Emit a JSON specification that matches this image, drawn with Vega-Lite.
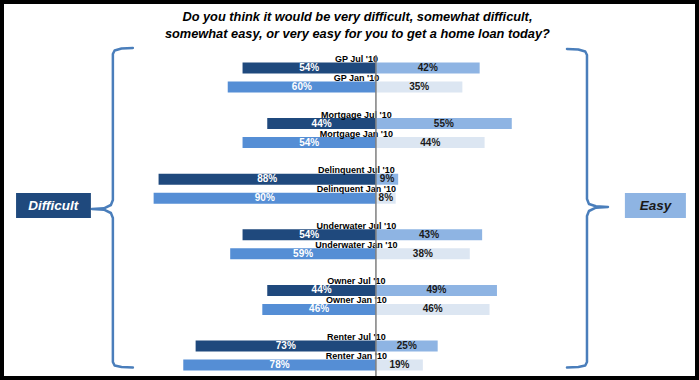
{
  "$schema": "https://vega.github.io/schema/vega-lite/v6.json",
  "width": 699,
  "height": 380,
  "autosize": {"type": "none"},
  "padding": 0,
  "background": "white",
  "config": {
    "view": {"stroke": "black", "strokeWidth": 8, "fill": "white"},
    "font": "Liberation Sans"
  },
  "datasets": {
    "answers": [
      {"group": "GP", "period": "Jul '10", "side": "Difficult", "value": -54},
      {"group": "GP", "period": "Jul '10", "side": "Easy", "value": 42},
      {"group": "GP", "period": "Jan '10", "side": "Difficult", "value": -60},
      {"group": "GP", "period": "Jan '10", "side": "Easy", "value": 35},
      {"group": "Mortgage", "period": "Jul '10", "side": "Difficult", "value": -44},
      {"group": "Mortgage", "period": "Jul '10", "side": "Easy", "value": 55},
      {"group": "Mortgage", "period": "Jan '10", "side": "Difficult", "value": -54},
      {"group": "Mortgage", "period": "Jan '10", "side": "Easy", "value": 44},
      {"group": "Delinquent", "period": "Jul '10", "side": "Difficult", "value": -88},
      {"group": "Delinquent", "period": "Jul '10", "side": "Easy", "value": 9},
      {"group": "Delinquent", "period": "Jan '10", "side": "Difficult", "value": -90},
      {"group": "Delinquent", "period": "Jan '10", "side": "Easy", "value": 8},
      {"group": "Underwater", "period": "Jul '10", "side": "Difficult", "value": -54},
      {"group": "Underwater", "period": "Jul '10", "side": "Easy", "value": 43},
      {"group": "Underwater", "period": "Jan '10", "side": "Difficult", "value": -59},
      {"group": "Underwater", "period": "Jan '10", "side": "Easy", "value": 38},
      {"group": "Owner", "period": "Jul '10", "side": "Difficult", "value": -44},
      {"group": "Owner", "period": "Jul '10", "side": "Easy", "value": 49},
      {"group": "Owner", "period": "Jan '10", "side": "Difficult", "value": -46},
      {"group": "Owner", "period": "Jan '10", "side": "Easy", "value": 46},
      {"group": "Renter", "period": "Jul '10", "side": "Difficult", "value": -73},
      {"group": "Renter", "period": "Jul '10", "side": "Easy", "value": 25},
      {"group": "Renter", "period": "Jan '10", "side": "Difficult", "value": -78},
      {"group": "Renter", "period": "Jan '10", "side": "Easy", "value": 19}
    ],
    "brackets": [
      {"b": "L", "i": 0, "x": -98.4, "v": 48},
      {"b": "L", "i": 1, "x": -103.0, "v": 48.5},
      {"b": "L", "i": 2, "x": -105.8, "v": 50.5},
      {"b": "L", "i": 3, "x": -106.5, "v": 54},
      {"b": "L", "i": 4, "x": -106.5, "v": 200},
      {"b": "L", "i": 5, "x": -107.3, "v": 205},
      {"b": "L", "i": 6, "x": -110.1, "v": 208.3},
      {"b": "L", "i": 7, "x": -115.0, "v": 209},
      {"b": "L", "i": 8, "x": -110.1, "v": 209.7},
      {"b": "L", "i": 9, "x": -107.3, "v": 213},
      {"b": "L", "i": 10, "x": -106.5, "v": 218},
      {"b": "L", "i": 11, "x": -106.5, "v": 362},
      {"b": "L", "i": 12, "x": -105.8, "v": 365.5},
      {"b": "L", "i": 13, "x": -103.0, "v": 367},
      {"b": "L", "i": 14, "x": -98.4, "v": 367.5},
      {"b": "R", "i": 0, "x": 77.35, "v": 49},
      {"b": "R", "i": 1, "x": 81.95, "v": 49.5},
      {"b": "R", "i": 2, "x": 84.75, "v": 51.5},
      {"b": "R", "i": 3, "x": 85.45, "v": 55},
      {"b": "R", "i": 4, "x": 85.45, "v": 199},
      {"b": "R", "i": 5, "x": 86.25, "v": 204},
      {"b": "R", "i": 6, "x": 89.05, "v": 206.3},
      {"b": "R", "i": 7, "x": 93.95, "v": 207},
      {"b": "R", "i": 8, "x": 89.05, "v": 207.7},
      {"b": "R", "i": 9, "x": 86.25, "v": 211},
      {"b": "R", "i": 10, "x": 85.45, "v": 216},
      {"b": "R", "i": 11, "x": 85.45, "v": 362},
      {"b": "R", "i": 12, "x": 84.75, "v": 365.5},
      {"b": "R", "i": 13, "x": 81.95, "v": 367},
      {"b": "R", "i": 14, "x": 77.35, "v": 367.5}
    ]
  },
  "resolve": {"scale": {"y": "independent"}},
  "layer": [
    {
      "data": {"name": "answers"},
      "transform": [
        {"calculate": "datum.side + ' ' + datum.period", "as": "series"},
        {"calculate": "abs(datum.value) + '%'", "as": "pct"},
        {"calculate": "datum.value / 2", "as": "mid"},
        {"calculate": "datum.group + ' ' + datum.period", "as": "rowLabel"}
      ],
      "encoding": {
        "y": {
          "field": "group",
          "type": "nominal",
          "sort": ["GP", "Mortgage", "Delinquent", "Underwater", "Owner", "Renter"],
          "scale": {"range": [49.7, 383.3], "paddingInner": 0, "paddingOuter": 0},
          "axis": null
        },
        "yOffset": {
          "field": "period",
          "type": "nominal",
          "sort": ["Jul '10", "Jan '10"],
          "scale": {"paddingInner": 0.42, "paddingOuter": 0.674}
        }
      },
      "layer": [
        {
          "mark": {"type": "bar"},
          "encoding": {
            "x": {"field": "value", "type": "quantitative", "scale": {"domain": [-152.2, 130.8], "nice": false, "zero": false}, "axis": null},
            "x2": {"datum": 0},
            "color": {
              "field": "series",
              "type": "nominal",
              "scale": {
                "domain": ["Difficult Jul '10", "Difficult Jan '10", "Easy Jul '10", "Easy Jan '10"],
                "range": ["#1F497D", "#558ED5", "#8EB4E3", "#DCE6F2"]
              },
              "legend": null
            }
          }
        },
        {
          "mark": {"type": "text", "fontSize": 10, "fontWeight": "bold", "baseline": "middle", "align": "center"},
          "encoding": {
            "x": {"field": "mid", "type": "quantitative", "scale": {"domain": [-152.2, 130.8], "nice": false, "zero": false}, "axis": null},
            "text": {"field": "pct"},
            "color": {"condition": {"test": "datum.value < 0", "value": "white"}, "value": "#1a1a1a"}
          }
        },
        {
          "transform": [{"filter": "datum.side == 'Difficult'"}],
          "mark": {"type": "text", "fontSize": 9, "fontWeight": "bold", "baseline": "alphabetic", "align": "center", "dy": -6, "color": "black"},
          "encoding": {
            "x": {"datum": -7.9, "scale": {"domain": [-152.2, 130.8], "nice": false, "zero": false}, "axis": null},
            "text": {"field": "rowLabel"}
          }
        }
      ]
    },
    {
      "layer": [
        {
          "data": {"values": [{}]},
          "mark": {"type": "rule", "color": "#7F7F7F", "strokeWidth": 1.5},
          "encoding": {
            "x": {"datum": 0, "scale": {"domain": [-152.2, 130.8], "nice": false, "zero": false}, "axis": null},
            "y": {"datum": 55, "type": "quantitative", "scale": {"domain": [0, 380], "reverse": true, "nice": false, "zero": false}, "axis": null},
            "y2": {"datum": 376}
          }
        },
        {
          "data": {"name": "brackets"},
          "mark": {"type": "line", "color": "#4A7EBB", "strokeWidth": 2.5, "strokeCap": "round", "strokeJoin": "round"},
          "encoding": {
            "x": {"field": "x", "type": "quantitative", "scale": {"domain": [-152.2, 130.8], "nice": false, "zero": false}, "axis": null},
            "y": {"field": "v", "type": "quantitative", "scale": {"domain": [0, 380], "reverse": true, "nice": false, "zero": false}, "axis": null},
            "detail": {"field": "b"},
            "order": {"field": "i"}
          }
        },
        {
          "data": {"values": [{}]},
          "mark": {"type": "rect", "color": "#1F497D"},
          "encoding": {
            "x": {"datum": -145.7, "scale": {"domain": [-152.2, 130.8], "nice": false, "zero": false}, "axis": null},
            "x2": {"datum": -115.4},
            "y": {"datum": 193, "type": "quantitative", "scale": {"domain": [0, 380], "reverse": true, "nice": false, "zero": false}, "axis": null},
            "y2": {"datum": 218}
          }
        },
        {
          "data": {"values": [{}]},
          "mark": {"type": "text", "color": "white", "fontSize": 13.5, "fontWeight": "bold", "fontStyle": "italic", "align": "center", "baseline": "middle"},
          "encoding": {
            "x": {"datum": -130.6, "scale": {"domain": [-152.2, 130.8], "nice": false, "zero": false}, "axis": null},
            "y": {"datum": 205.5, "type": "quantitative", "scale": {"domain": [0, 380], "reverse": true, "nice": false, "zero": false}, "axis": null},
            "text": {"value": "Difficult"}
          }
        },
        {
          "data": {"values": [{}]},
          "mark": {"type": "rect", "color": "#8EB4E3"},
          "encoding": {
            "x": {"datum": 100.8, "scale": {"domain": [-152.2, 130.8], "nice": false, "zero": false}, "axis": null},
            "x2": {"datum": 125.5},
            "y": {"datum": 193, "type": "quantitative", "scale": {"domain": [0, 380], "reverse": true, "nice": false, "zero": false}, "axis": null},
            "y2": {"datum": 218}
          }
        },
        {
          "data": {"values": [{}]},
          "mark": {"type": "text", "color": "#1a1a1a", "fontSize": 13.5, "fontWeight": "bold", "fontStyle": "italic", "align": "center", "baseline": "middle"},
          "encoding": {
            "x": {"datum": 113.2, "scale": {"domain": [-152.2, 130.8], "nice": false, "zero": false}, "axis": null},
            "y": {"datum": 205.5, "type": "quantitative", "scale": {"domain": [0, 380], "reverse": true, "nice": false, "zero": false}, "axis": null},
            "text": {"value": "Easy"}
          }
        },
        {
          "data": {"values": [{}]},
          "mark": {"type": "text", "color": "black", "fontSize": 12.8, "fontWeight": "bold", "fontStyle": "italic", "align": "center", "baseline": "alphabetic", "lineHeight": 17},
          "encoding": {
            "x": {"datum": -7.5, "scale": {"domain": [-152.2, 130.8], "nice": false, "zero": false}, "axis": null},
            "y": {"datum": 21, "type": "quantitative", "scale": {"domain": [0, 380], "reverse": true, "nice": false, "zero": false}, "axis": null},
            "text": {"value": ["Do you think it would be very difficult, somewhat difficult,", "somewhat easy, or very easy for you to get a home loan today?"]}
          }
        }
      ]
    }
  ]
}
